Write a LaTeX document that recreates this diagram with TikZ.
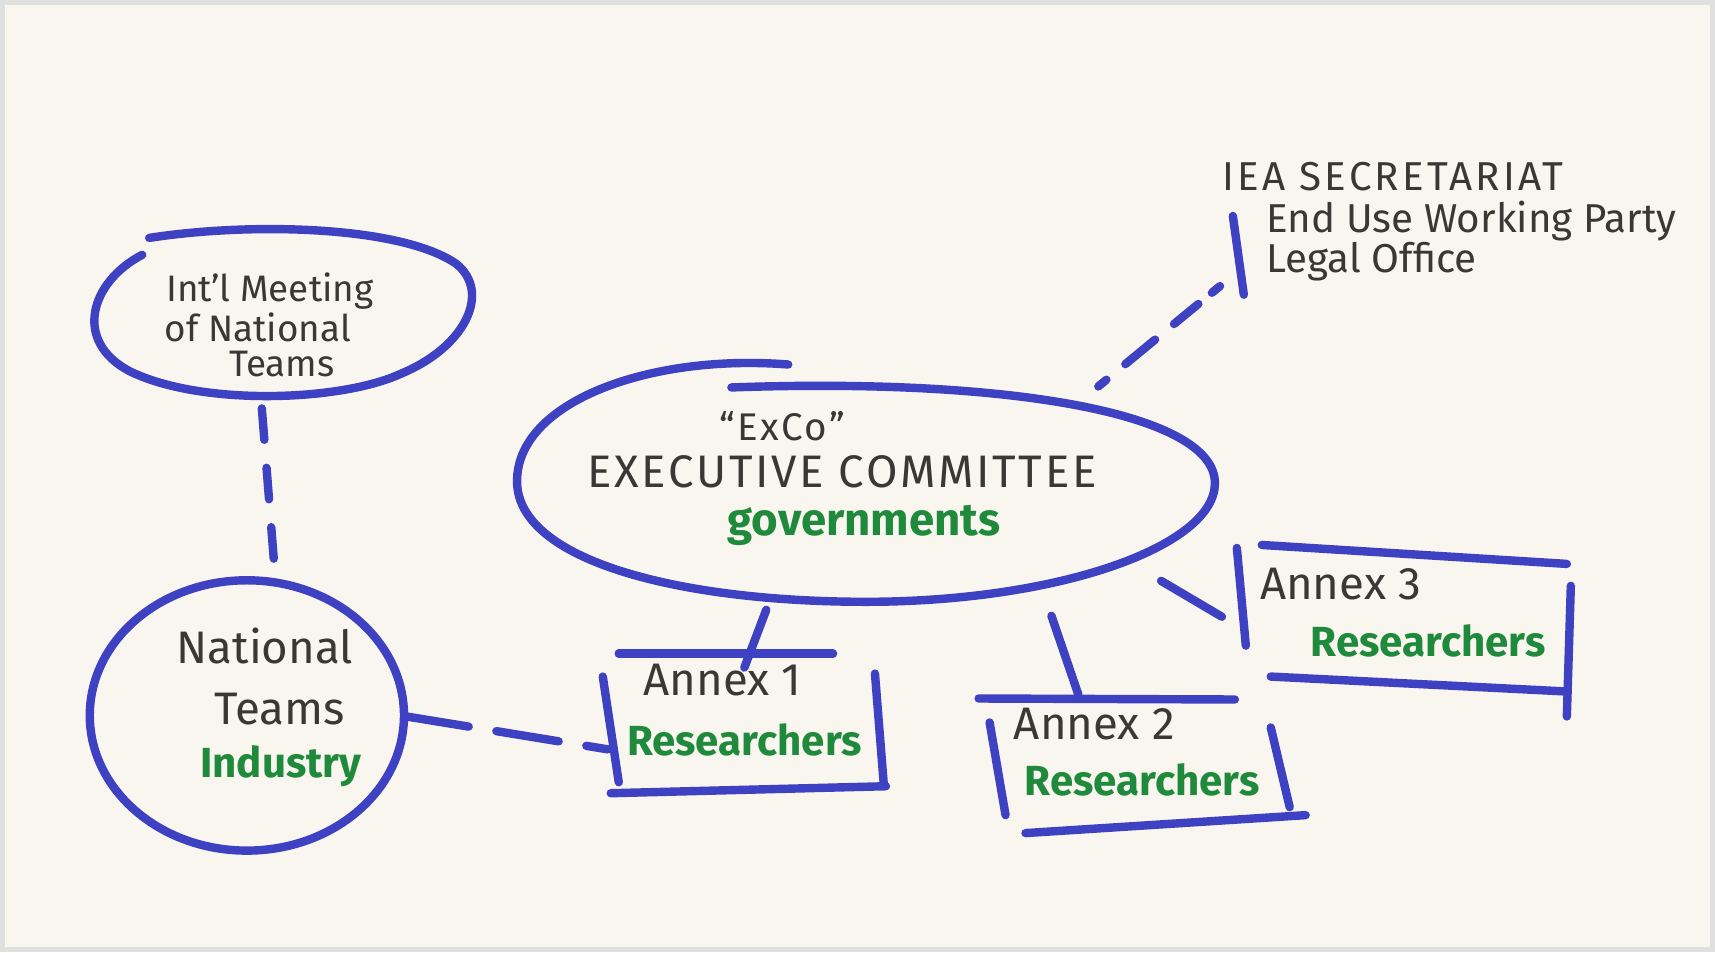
\documentclass[tikz,border=0pt]{standalone}
\usepackage{fontspec}
\setmainfont{Fira Sans}
\usetikzlibrary{shapes.geometric,calc}
\definecolor{paper}{HTML}{F8F6EE}
\definecolor{pen}{HTML}{3E42C2}
\definecolor{ink}{HTML}{3A3734}
\definecolor{grn}{HTML}{208A3C}
\begin{document}
\begin{tikzpicture}[x=0.01cm,y=-0.01cm,
  penline/.style={draw=pen,line width=2.4pt,line cap=round,line join=round},
  oval/.style={penline,ellipse,inner sep=0pt},
  ghost/.style={inner sep=0pt,outer sep=0pt},
  lbl/.style={text=ink,inner sep=0pt,font=\fontsize{11}{11}\selectfont},
  smalll/.style={text=ink,inner sep=0pt,font=\fontsize{10.5}{10.5}\selectfont},
  bigl/.style={text=ink,inner sep=0pt,font=\fontsize{13}{13}\selectfont},
  glbl/.style={text=grn,inner sep=0pt,font=\bfseries\fontsize{12}{12}\selectfont},
  dashline/.style={penline,dash pattern=on 9pt off 8pt}]
\fill[paper] (0,0) rectangle (1715,950);
\draw[black!12,line width=1.5pt] (0,0) rectangle (1715,950);

% ---- Int'l Meeting ellipse ----
\node[ghost,ellipse,minimum width=3.87cm,minimum height=1.72cm] (intl) at (279,313) {};
\draw[penline] (147,236) .. controls (250,220) and (400,224) .. (455,262)
  .. controls (490,290) and (465,345) .. (400,372)
  .. controls (340,400) and (200,405) .. (128,370)
  .. controls (70,340) and (88,280) .. (140,253);
\node[smalll] (intl1) at (268,289) {Int'l Meeting};
\node[smalll] (intl2) at (256,326) {of National};
\node[smalll] (intl3) at (280,363) {Teams};

% ---- National Teams ----
\node[oval,minimum width=3.15cm,minimum height=2.71cm] (nat) at (245,715) {};
\node[bigl] (nat1) at (263,645) {National};
\node[bigl] (nat2) at (278,709) {Teams};
\node[glbl] (nat3) at (279,766) {Industry};

% ---- Exco ellipse ----
\node[ghost,ellipse,minimum width=7cm,minimum height=2.38cm] (exco) at (866,480) {};
\draw[penline] (788,363) .. controls (650,352) and (516,400) .. (516,480)
  .. controls (516,560) and (680,601) .. (866,601)
  .. controls (1060,601) and (1216,545) .. (1216,482)
  .. controls (1216,412) and (1010,376) .. (731,386);
\node[text=ink,inner sep=0pt,font=\fontsize{11}{11}\selectfont\addfontfeature{LetterSpace=6}] (exco1) at (782,425) {“ExCo”};
\node[text=ink,inner sep=0pt,font=\fontsize{13}{13}\selectfont\addfontfeature{LetterSpace=6}] (exco2) at (842,471) {EXECUTIVE COMMITTEE};
\node[glbl,font=\bfseries\fontsize{13}{13}\selectfont] (exco3) at (864,524) {governments};

% ---- IEA Secretariat ----
\node[lbl,anchor=west,font=\fontsize{11.5}{11.5}\selectfont\addfontfeature{LetterSpace=8}] (secA) at (1223,175) {IEA SECRETARIAT};
\node[lbl,anchor=west,font=\fontsize{11.5}{11.5}\selectfont] (secB) at (1267,219) {End Use Working Party};
\node[lbl,anchor=west,font=\fontsize{11.5}{11.5}\selectfont] (secC) at (1267,260) {Legal Office};
\draw[penline] (1234,214) -- (1245,293);
\coordinate (secE) at (1230,277);

% ---- Annex 1 ----
\node[ghost,minimum width=2.72cm,minimum height=1.37cm] (a1) at (744,721) {};
\draw[penline] (618,653) -- (833,653);
\draw[penline] (602,676) -- (618,782);
\draw[penline] (875,673) -- (884,786);
\draw[penline] (610,793) -- (886,786);
\node[bigl] (a1t) at (722,680) {Annex 1};
\node[glbl] (a1r) at (744,740) {Researchers};

% ---- Annex 2 ----
\node[ghost,minimum width=3.1cm,minimum height=1.27cm] (a2) at (1145,761) {};
\draw[penline] (979,698) -- (1236,699);
\draw[penline] (990,722) -- (1006,815);
\draw[penline] (1272,727) -- (1291,807);
\draw[penline] (1026,833) -- (1307,815);
\node[bigl] (a2t) at (1095,724) {Annex 2};
\node[glbl] (a2r) at (1143,780) {Researchers};

% ---- Annex 3 ----
\node[ghost,minimum width=3.29cm,minimum height=1.35cm] (a3) at (1406,617) {};
\draw[penline] (1238,547) -- (1247,645);
\draw[penline] (1263,544) -- (1569,563);
\draw[penline] (1573,585) -- (1569,716);
\draw[penline] (1272,676) -- (1569,691);
\node[bigl] (a3t) at (1342,583) {Annex 3};
\node[glbl] (a3r) at (1430,640) {Researchers};

% ---- connectors ----
\draw[dashline] ($(intl)+(-19,94)$) -- ($(nat)+(28,-144)$);
\draw[penline,dash pattern=on 18pt off 8pt] ($(nat)+(160,1)$) -- ($(a1)+(-137,28)$);
\draw[penline,dash pattern=on 3pt off 7pt on 11pt off 7pt on 9pt off 5pt] ($(exco)+(233,-95)$) -- (secE);
\draw[penline] ($(exco)+(-100,129)$) -- ($(a1)+(0,-54)$);
\draw[penline] ($(exco)+(186,135)$) -- ($(a2)+(-66,-67)$);
\draw[penline] ($(exco)+(296,100)$) -- ($(a3)+(-183,-1)$);
\end{tikzpicture}
\end{document}
